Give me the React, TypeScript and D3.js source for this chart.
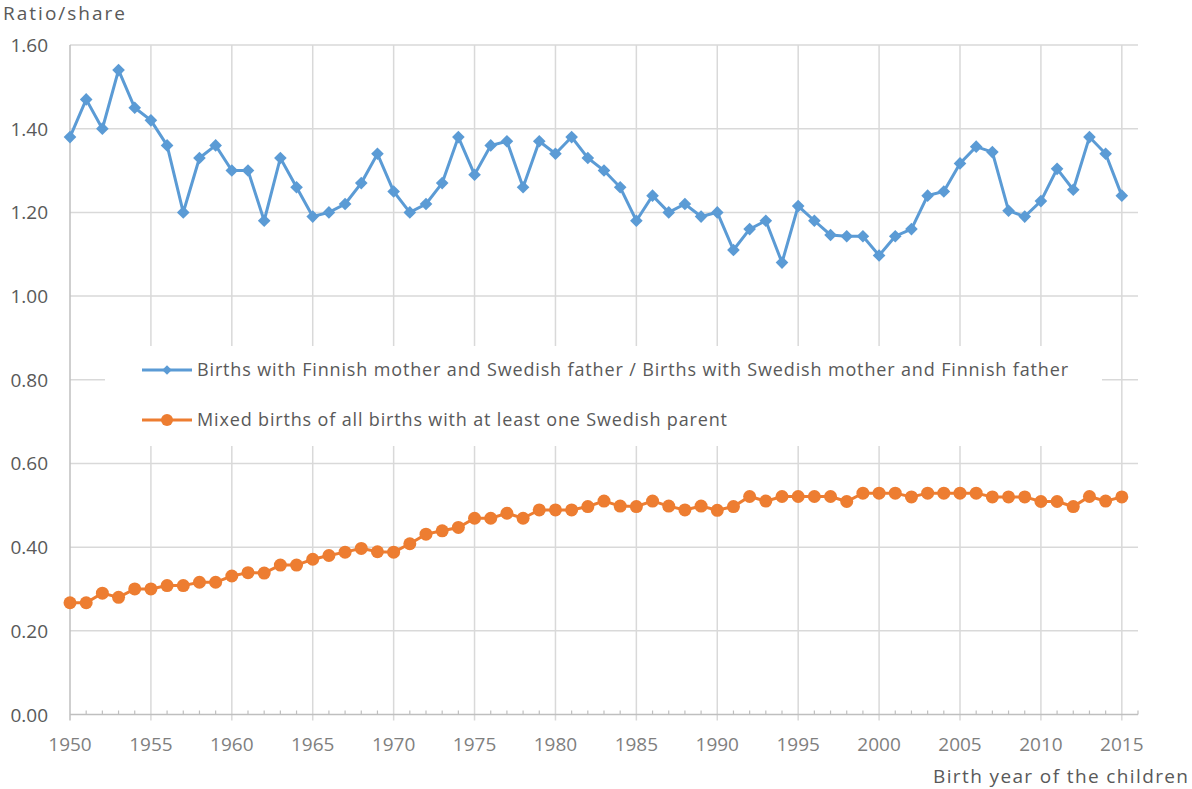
import * as d3 from "d3";

const years = d3.range(1950, 2016);

const ratioValues = [
  1.38, 1.47, 1.4, 1.54, 1.45, 1.42, 1.36, 1.2, 1.33, 1.36,
  1.3, 1.3, 1.18, 1.33, 1.26, 1.19, 1.2, 1.22, 1.27, 1.34,
  1.25, 1.2, 1.22, 1.27, 1.38, 1.29, 1.36, 1.37, 1.26, 1.37,
  1.34, 1.38, 1.33, 1.3, 1.26, 1.18, 1.24, 1.2, 1.22, 1.19,
  1.2, 1.11, 1.16, 1.18, 1.08, 1.215, 1.18, 1.146, 1.143, 1.143,
  1.097, 1.143, 1.16, 1.24, 1.25, 1.317, 1.357, 1.344, 1.204, 1.19,
  1.227, 1.304, 1.254, 1.38, 1.34, 1.24,
];

const mixedShareValues = [
  0.267, 0.267, 0.29, 0.28, 0.3, 0.3, 0.308, 0.308, 0.316, 0.316,
  0.331, 0.339, 0.338, 0.357, 0.357, 0.371, 0.38, 0.388, 0.397, 0.389,
  0.388, 0.408, 0.431, 0.439, 0.447, 0.469, 0.469, 0.481, 0.469, 0.489,
  0.489, 0.489, 0.497, 0.51, 0.498, 0.497, 0.51, 0.498, 0.489, 0.498,
  0.488, 0.497, 0.521, 0.51, 0.521, 0.521, 0.521, 0.521, 0.509, 0.529,
  0.529, 0.529, 0.52, 0.529, 0.529, 0.529, 0.529, 0.52, 0.52, 0.52,
  0.509, 0.509, 0.497, 0.521, 0.51, 0.52,
];

const yTicks = [0, 0.2, 0.4, 0.6, 0.8, 1.0, 1.2, 1.4, 1.6];
const xTicks = d3.range(1950, 2016, 5);

const legendLabels = [
  "Births with Finnish mother and Swedish father / Births with Swedish mother and Finnish father",
  "Mixed births of all births with at least one Swedish parent",
];

const BLUE = "#5b9bd5";
const ORANGE = "#ed7d31";
const GRID = "#d9d9d9";
const FONT = "'Open Sans', 'Liberation Sans', sans-serif";

const WIDTH = 1192;
const HEIGHT = 789;

export default function App() {
  const x = d3.scaleLinear().domain([1950, 2016]).range([70, 1138]);
  const y = d3.scaleLinear().domain([0, 1.6]).range([714.5, 45]);

  const line = d3
    .line<number>()
    .x((_, i) => x(years[i]))
    .y((d) => y(d));

  const diamond = d3.symbol(d3.symbolSquare, 80)() || undefined;
  const smallDiamond = d3.symbol(d3.symbolSquare, 45)() || undefined;

  return (
    <svg
      width={WIDTH}
      height={HEIGHT}
      style={{ position: "absolute", left: 0, top: 0, background: "#fff" }}
      fontFamily={FONT}
    >
      {/* horizontal grid */}
      {yTicks.slice(1).map((t) => (
        <line
          key={"h" + t}
          x1={x(1950)}
          x2={x(2016)}
          y1={y(t)}
          y2={y(t)}
          stroke={GRID}
          strokeWidth={1.5}
        />
      ))}
      {/* vertical grid */}
      {xTicks.slice(1).map((t) => (
        <line
          key={"v" + t}
          x1={x(t)}
          x2={x(t)}
          y1={y(1.6)}
          y2={y(0) + 6}
          stroke={GRID}
          strokeWidth={1.5}
        />
      ))}
      {/* axes */}
      <line x1={x(1950)} x2={x(1950)} y1={y(1.6)} y2={y(0) + 6} stroke="#bfbfbf" strokeWidth={1.5} />
      <line x1={x(1950)} x2={x(2016)} y1={y(0)} y2={y(0)} stroke="#bfbfbf" strokeWidth={1.5} />
      {years.concat([2016]).filter((yr) => yr % 5 !== 0).map((yr) => (
        <line key={"m" + yr} x1={x(yr)} x2={x(yr)} y1={y(0)} y2={y(0) - 4} stroke="#bfbfbf" strokeWidth={1.2} />
      ))}

      {yTicks.map((t) => (
        <text key={"yl" + t} x={48} y={y(t) + 7} textAnchor="end" fontSize={19} fill="#595959">
          {t.toFixed(2)}
        </text>
      ))}
      {xTicks.map((t) => (
        <text key={"xl" + t} x={x(t)} y={751} textAnchor="middle" fontSize={19} fill="#7f7f7f">
          {t}
        </text>
      ))}

      <text x={3} y={20} fontSize={19} fill="#595959" textLength={122}>
        Ratio/share
      </text>
      <text x={933} y={783} fontSize={19} fill="#595959" textLength={255}>
        Birth year of the children
      </text>

      {/* series */}
      <path d={line(mixedShareValues) || undefined} fill="none" stroke={ORANGE} strokeWidth={3} />
      {mixedShareValues.map((v, i) => (
        <circle key={"o" + i} cx={x(years[i])} cy={y(v)} r={6.5} fill={ORANGE} />
      ))}
      <path d={line(ratioValues) || undefined} fill="none" stroke={BLUE} strokeWidth={3} />
      {ratioValues.map((v, i) => (
        <path
          key={"b" + i}
          d={diamond}
          transform={`translate(${x(years[i])},${y(v)}) rotate(45)`}
          fill={BLUE}
        />
      ))}

      {/* legend */}
      <rect x={105} y={346} width={997} height={100} fill="#fff" />
      <g>
        <line x1={142} x2={192} y1={370} y2={370} stroke={BLUE} strokeWidth={3} />
        <path d={smallDiamond} transform="translate(167,370) rotate(45)" fill={BLUE} />
        <text x={197} y={376} fontSize={18} fill="#595959" textLength={871}>
          {legendLabels[0]}
        </text>
        <line x1={142} x2={192} y1={420} y2={420} stroke={ORANGE} strokeWidth={3} />
        <circle cx={167} cy={420} r={6} fill={ORANGE} />
        <text x={197} y={426} fontSize={18} fill="#595959" textLength={530}>
          {legendLabels[1]}
        </text>
      </g>
    </svg>
  );
}
